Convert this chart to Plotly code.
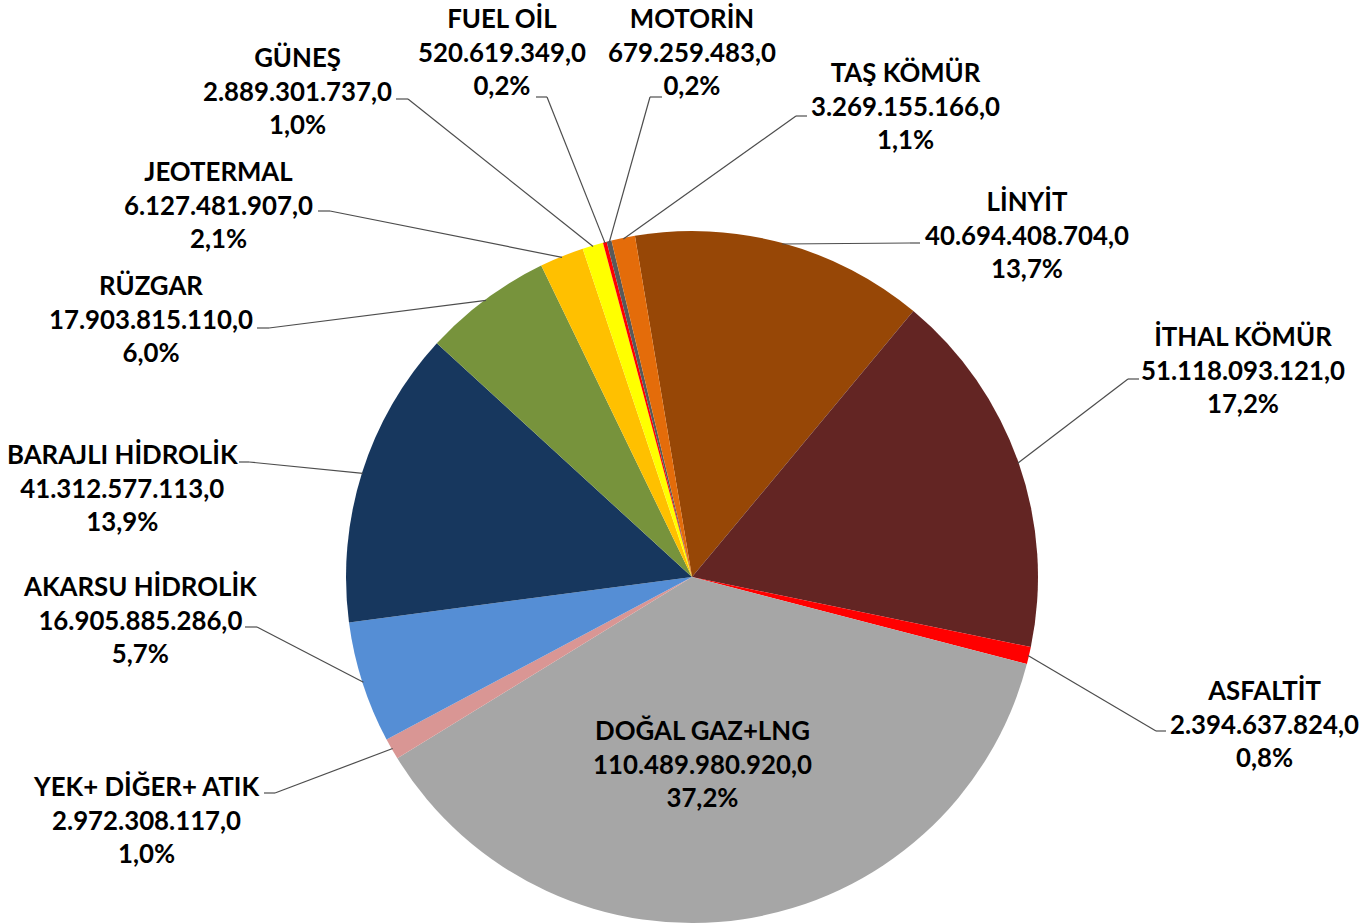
import math
import plotly.graph_objects as go

# ---------------- data ----------------
categories = ["LİNYİT", "İTHAL KÖMÜR", "ASFALTİT", "DOĞAL GAZ+LNG", "YEK+ DİĞER+ ATIK",
              "AKARSU HİDROLİK", "BARAJLI HİDROLİK", "RÜZGAR", "JEOTERMAL", "GÜNEŞ",
              "FUEL OİL", "MOTORİN", "TAŞ KÖMÜR"]
values = [40694408704.0, 51118093121.0, 2394637824.0, 110489980920.0, 2972308117.0,
          16905885286.0, 41312577113.0, 17903815110.0, 6127481907.0, 2889301737.0,
          520619349.0, 679259483.0, 3269155166.0]
colors = ["#974706", "#632523", "#FF0000", "#A6A6A6", "#D99694",
          "#558ED5", "#17375E", "#77933C", "#FFC000", "#FFFF00",
          "#FF0000", "#595959", "#E46C0A"]

# ---------------- layout (screen pixels) ----------------
W, H = 1367, 923
CX, CY, R = 692, 577, 346
ROT = -9.5
FONT_SIZE = 25.8

# label middle-line centre, elbow point, end of short horizontal segment
label_layout = {
    "LİNYİT":           ((1027, 234), (910, 243), (920, 243)),
    "İTHAL KÖMÜR":      ((1243, 369), (1128, 379), (1139, 379)),
    "ASFALTİT":         ((1264, 723), (1156, 731), (1166, 731)),
    "DOĞAL GAZ+LNG":    ((702, 763), None, None),
    "YEK+ DİĞER+ ATIK": ((146, 819), (275, 793), (264, 793)),
    "AKARSU HİDROLİK":  ((140, 619), (257, 627), (245, 627)),
    "BARAJLI HİDROLİK": ((123, 487), (249, 462), (239, 462)),
    "RÜZGAR":           ((151, 318), (269, 328), (257, 328)),
    "JEOTERMAL":        ((219, 204), (330, 211), (318, 211)),
    "GÜNEŞ":            ((297, 91), (408, 99), (396, 99)),
    "FUEL OİL":         ((502, 51), (547, 97), (536, 97)),
    "MOTORİN":          ((692, 51), (650, 97), (662, 97)),
    "TAŞ KÖMÜR":        ((905, 106), (796, 116), (807, 116)),
}


def px(x):
    return x / W


def py(y):
    return 1 - y / H


def fmt_val(v):
    s = f"{v:,.1f}"
    return s.replace(",", "#").replace(".", ",").replace("#", ".")


total = sum(values)

fig = go.Figure()
fig.add_trace(go.Pie(
    labels=categories,
    values=values,
    marker=dict(colors=colors, line=dict(width=0)),
    sort=False,
    direction="clockwise",
    rotation=ROT,
    textinfo="none",
    hoverinfo="label+value+percent",
    showlegend=False,
    domain=dict(x=[px(CX - R), px(CX + R)],
                y=[max(0.0, py(CY + R)), min(1.0, py(CY - R))]),
))

shapes = []
annotations = []
cum = 0.0
for name, v in zip(categories, values):
    mid = ROT + (cum + v / 2) / total * 360.0
    cum += v
    (cx, cy), elbow, hend = label_layout[name]
    pct = f"{v / total * 100:.1f}".replace(".", ",") + "%"
    text = f"{name}<br>{fmt_val(v)}<br>{pct}"
    annotations.append(dict(
        x=px(cx), y=py(cy), xref="paper", yref="paper",
        text=text, showarrow=False, xanchor="center", yanchor="middle",
        align="center",
        font=dict(family="Lato", size=FONT_SIZE, color="#000000", weight="bold"),
    ))
    if elbow is not None:
        a = math.radians(mid)
        sx = CX + (R - 1) * math.sin(a)
        sy = CY - (R - 1) * math.cos(a)
        for (x0, y0), (x1, y1) in [((sx, sy), elbow), (elbow, hend)]:
            shapes.append(dict(
                type="line", xref="paper", yref="paper",
                x0=px(x0), y0=py(y0), x1=px(x1), y1=py(y1),
                line=dict(color="#4D4D4D", width=1.2),
            ))

fig.update_layout(
    width=W, height=H,
    margin=dict(l=0, r=0, t=0, b=0),
    paper_bgcolor="white",
    plot_bgcolor="white",
    shapes=shapes,
    annotations=annotations,
)

fig.write_html(
    "out.html",
    config={"displayModeBar": False},
    post_script="document.body.style.margin='0px';document.body.style.overflow='hidden';",
)
